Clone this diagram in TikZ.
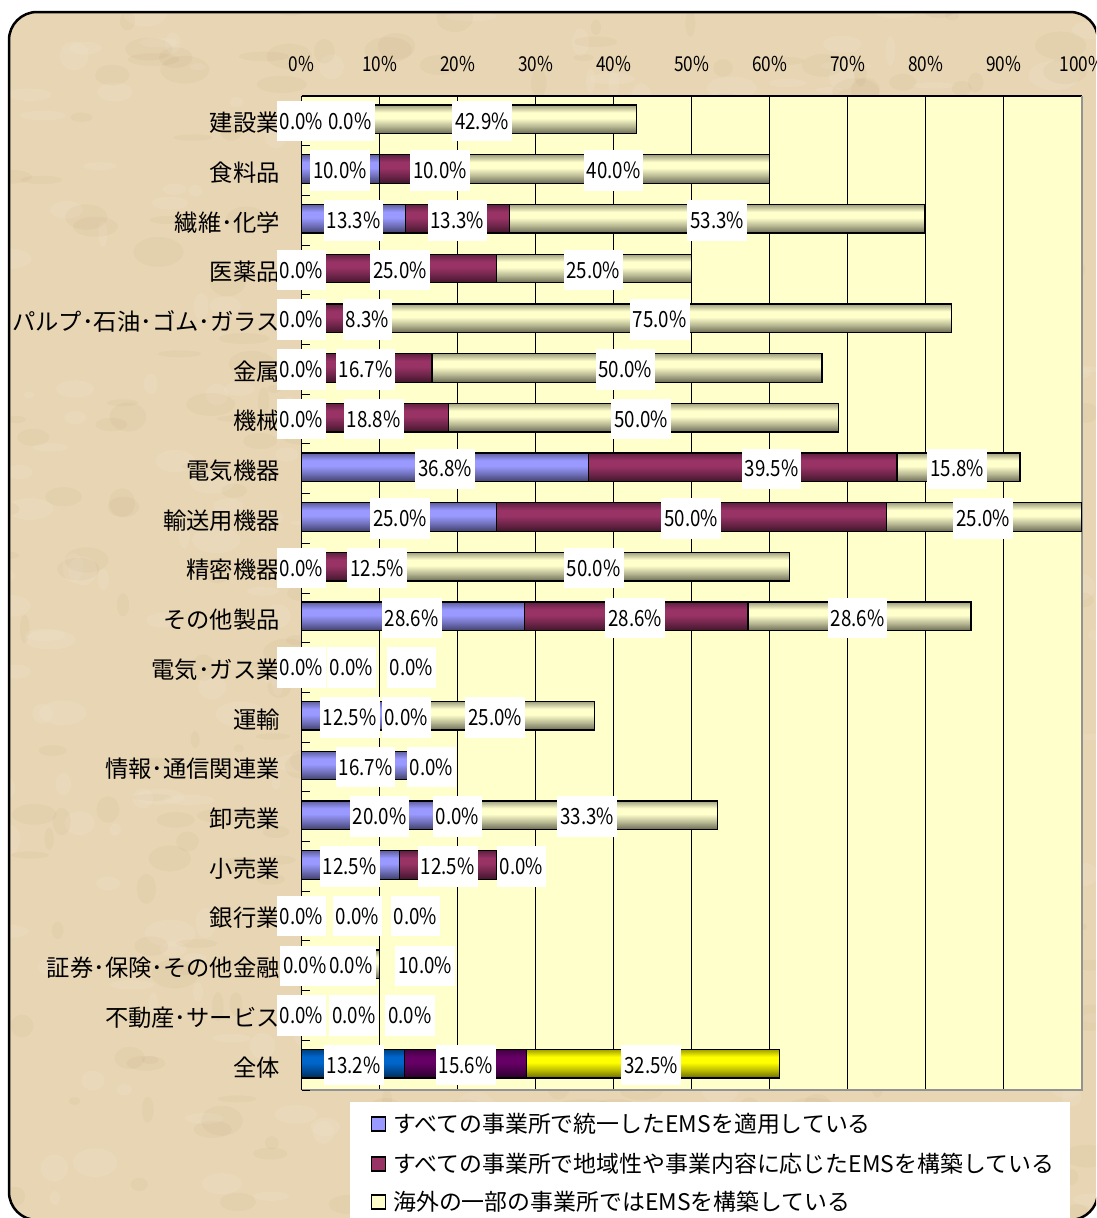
\documentclass[tikz,border=0pt]{standalone}
\usepackage{fontspec}
\setmainfont{Noto Sans CJK JP}
\newfontfamily\numf[FakeStretch=0.84]{Noto Sans CJK JP}
\definecolor{bgc}{HTML}{E7D5B3}
\definecolor{plotc}{HTML}{FFFFCC}
\definecolor{s1}{HTML}{9999FF}
\definecolor{s2}{HTML}{993366}
\definecolor{s3}{HTML}{FFFFCC}
\definecolor{t1}{HTML}{0066CC}
\definecolor{t2}{HTML}{660066}
\definecolor{t3}{HTML}{FFFF00}
\newcommand\mkshade[2]{%
 \colorlet{#1b}{#2!42!black}%
 \colorlet{#1m}{#2!72!black}%
 \colorlet{#1t}{#2!62!black}%
 \colorlet{#1c}{#2}%
 \pgfdeclareverticalshading{#1}{100bp}{color(0bp)=(#1b); color(25bp)=(#1b); color(38bp)=(#1m); color(52bp)=(#1c); color(62bp)=(#1c); color(75bp)=(#1t); color(100bp)=(#1t)}%
}
\mkshade{shA}{s1}
\mkshade{shB}{s2}
\mkshade{shC}{s3}
\mkshade{shD}{t1}
\mkshade{shE}{t2}
\mkshade{shF}{t3}
\newcommand\mybars[7]{%
 \pgfmathsetmacro\yc{96+49.7*(#1+0.5)-1.5}%
 \pgfmathsetmacro\xa{301.7}%
 \pgfmathsetmacro\xb{301.7+7.8*#2}%
 \pgfmathsetmacro\xc{\xb+7.8*#3}%
 \pgfmathsetmacro\xd{\xc+7.8*#4}%
 \ifdim #2pt>0pt \shadedraw[barseg,shading=#5] (\xa,\yc-14.3) rectangle (\xb,\yc+14.3);\fi
 \ifdim #3pt>0pt \shadedraw[barseg,shading=#6] (\xb,\yc-14.3) rectangle (\xc,\yc+14.3);\fi
 \ifdim #4pt>0pt \shadedraw[barseg,shading=#7] (\xc,\yc-14.3) rectangle (\xd,\yc+14.3);\fi
}
\begin{document}
\begin{tikzpicture}[x=1pt,y=-1pt,
  barseg/.style={draw=black,line width=1.3pt},
  lbl/.style={fill=white,inner xsep=3pt,inner ysep=0pt,minimum height=40.5pt,minimum width=48.5pt,font=\numf\fontsize{22.3}{22.3}\selectfont},
  catl/.style={anchor=east,inner sep=0pt,font=\fontsize{23.3}{23.3}\selectfont},
  axl/.style={inner sep=0pt,font=\numf\fontsize{20.5}{20.5}\selectfont},
  legsq/.style={draw=black,line width=1.2pt,minimum width=14pt,minimum height=14pt,inner sep=0pt},
  legt/.style={anchor=west,inner sep=0pt,font=\fontsize{22.9}{22.9}\selectfont}]
\useasboundingbox (0,0) rectangle (1096,1218);
\clip (0,0) rectangle (1096,1218);
\fill[white] (0,0) rectangle (1096,1218);
\begin{scope}
 \clip[rounded corners=28] (9,12) rectangle (1098,1220);
 \fill[bgc] (0,0) rectangle (1096,1218);
 \pgfmathsetseed{42}
 \foreach \k in {1,...,700}{%
  \pgfmathsetmacro\px{rnd*1096}%
  \pgfmathsetmacro\py{rnd*1218}%
  \pgfmathsetmacro\rx{4+rnd*22}%
  \pgfmathsetmacro\ry{3+rnd*12}%
  \pgfmathtruncatemacro\lt{rnd*2}%
  \ifnum\lt=0 \fill[white,opacity=0.09] (\px,\py) ellipse [x radius=\rx, y radius=\ry];%
  \else \fill[brown!70!black,opacity=0.04] (\px,\py) ellipse [x radius=\rx, y radius=\ry];\fi
 }
\end{scope}
\draw[line width=2.5pt,rounded corners=28] (9,12) rectangle (1098,1220);
% plot area
\fill[plotc] (301.7,96) rectangle (1081.7,1090);
\foreach \p in {1,...,9} \draw[black,line width=1pt] ({301.7+78*\p},96) -- ({301.7+78*\p},1090);
\draw[black,line width=1.5pt] (301.7,96) -- (1081.7,96);
\draw[gray!85,line width=2pt] (1081.7,96) -- (1081.7,1090) -- (301.7,1090);
\draw[black,line width=1.5pt] (301.7,96) -- (301.7,1090);
\foreach \r in {0,...,20} \draw[black,line width=1pt] (301.7,{96+49.7*\r}) -- ++(8,0);
% top axis labels
\foreach \p/\t in {0/0,1/10,2/20,3/30,4/40,5/50,6/60,7/70,8/80,9/90,10/100} \node[axl] (t\p) at ({301.7+78*\p},64) {\t\%};
% bars
\mybars{0}{0}{0}{42.9}{shA}{shB}{shC}
\mybars{1}{10}{10}{40}{shA}{shB}{shC}
\mybars{2}{13.3}{13.3}{53.3}{shA}{shB}{shC}
\mybars{3}{0}{25}{25}{shA}{shB}{shC}
\mybars{4}{0}{8.3}{75}{shA}{shB}{shC}
\mybars{5}{0}{16.7}{50}{shA}{shB}{shC}
\mybars{6}{0}{18.8}{50}{shA}{shB}{shC}
\mybars{7}{36.8}{39.5}{15.8}{shA}{shB}{shC}
\mybars{8}{25}{50}{25}{shA}{shB}{shC}
\mybars{9}{0}{12.5}{50}{shA}{shB}{shC}
\mybars{10}{28.6}{28.6}{28.6}{shA}{shB}{shC}
\mybars{11}{0}{0}{0}{shA}{shB}{shC}
\mybars{12}{12.5}{0}{25}{shA}{shB}{shC}
\mybars{13}{16.7}{0}{0}{shA}{shB}{shC}
\mybars{14}{20}{0}{33.3}{shA}{shB}{shC}
\mybars{15}{12.5}{12.5}{0}{shA}{shB}{shC}
\mybars{16}{0}{0}{0}{shA}{shB}{shC}
\mybars{17}{0}{0}{10}{shA}{shB}{shC}
\mybars{18}{0}{0}{0}{shA}{shB}{shC}
\mybars{19}{13.2}{15.6}{32.5}{shD}{shE}{shF}
% category labels
\foreach \r/\t in {0/建設業,1/食料品,2/繊維･化学,3/医薬品,4/パルプ･石油･ゴム･ガラス,5/金属,6/機械,7/電気機器,8/輸送用機器,9/精密機器,10/その他製品,11/電気･ガス業,12/運輸,13/情報･通信関連業,14/卸売業,15/小売業,16/銀行業,17/証券･保険･その他金融,18/不動産･サービス,19/全体}
  \node[catl] (c\r) at (280,{96+49.7*(\r+0.5)+2}) {\t};
% data labels
\foreach \r/\n/\x/\t in {
 0/a/301.5/0.0, 0/b/350/0.0, 0/c/482/42.9,
 1/a/340/10.0, 1/b/440/10.0, 1/c/613.5/40.0,
 2/a/353.5/13.3, 2/b/457.4/13.3, 2/c/717.3/53.3,
 3/a/301.5/0.0, 3/b/400/25.0, 3/c/593.4/25.0,
 4/a/301.5/0.0, 4/b/367.5/8.3, 4/c/659.7/75.0,
 5/a/301.5/0.0, 5/b/365.5/16.7, 5/c/625.4/50.0,
 6/a/301.5/0.0, 6/b/373.7/18.8, 6/c/641.3/50.0,
 7/a/445.3/36.8, 7/b/771.5/39.5, 7/c/957.2/15.8,
 8/a/400/25.0, 8/b/691.3/50.0, 8/c/983.2/25.0,
 9/a/301.5/0.0, 9/b/377.3/12.5, 9/c/593.7/50.0,
 10/a/411.7/28.6, 10/b/635.3/28.6, 10/c/857.5/28.6,
 11/a/301.5/0.0, 11/b/351.5/0.0, 11/c/411.5/0.0,
 12/a/349.7/12.5, 12/b/406.2/0.0, 12/c/495.3/25.0,
 13/a/365.5/16.7, 13/b/431.3/0.0,
 14/a/379.5/20.0, 14/b/457.5/0.0, 14/c/587.3/33.3,
 15/a/349.7/12.5, 15/b/447.8/12.5, 15/c/521.3/0.0,
 16/a/301.5/0.0, 16/b/357.5/0.0, 16/c/415.5/0.0,
 17/a/304.7/0.0, 17/b/351/0.0, 17/c/425.3/10.0,
 18/a/301.5/0.0, 18/b/353.8/0.0, 18/c/410/0.0,
 19/a/353.7/13.2, 19/b/465.7/15.6, 19/c/651.2/32.5}
  \node[lbl] (r\r\n) at (\x,{96+49.7*(\r+0.5)}) {\t\%};
% legend
\node[fill=white,anchor=north west,minimum width=719.3pt,minimum height=125pt,inner sep=0pt] (leg) at (350,1101.7) {};
\node[legsq,fill=s1] (q1) at (378.3,1124) {};
\node[legt] (e1) at (393,1124) {すべての事業所で統一したEMSを適用している};
\node[legsq,fill=s2] (q2) at (378.3,1164) {};
\node[legt] (e2) at (393,1164) {すべての事業所で地域性や事業内容に応じたEMSを構築している};
\node[legsq,fill=s3] (q3) at (378.3,1202) {};
\node[legt] (e3) at (393,1202) {海外の一部の事業所ではEMSを構築している};
\end{tikzpicture}
\end{document}
